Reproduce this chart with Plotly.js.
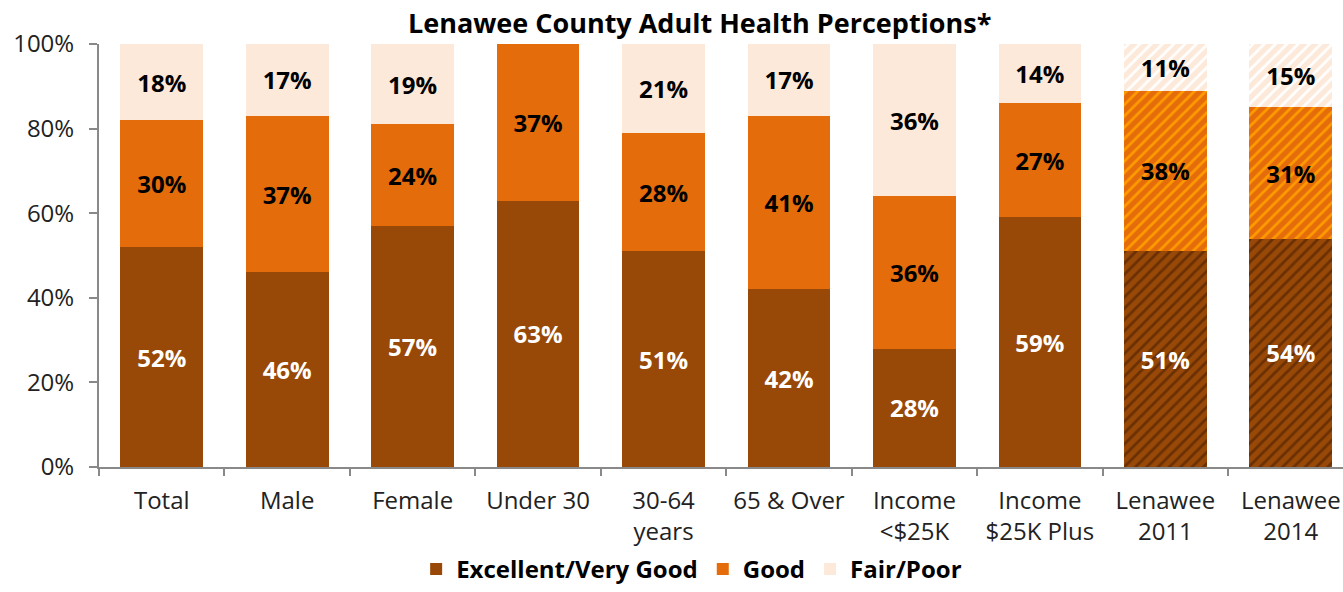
<!DOCTYPE html>
<html>
<head>
<meta charset="utf-8">
<script src="https://cdn.plot.ly/plotly-3.0.1.min.js"></script>
<style>html,body{margin:0;padding:0;background:#fff;}#chart{width:1343px;height:592px;}</style>
</head>
<body>
<div id="chart"></div>
<script>
const categories = ["Total","Male","Female","Under 30","30-64<br>years","65 & Over","Income<br><$25K","Income<br>$25K Plus","Lenawee<br>2011","Lenawee<br>2014"];
const excellent = [52,46,57,63,51,42,28,59,51,54];
const good = [30,37,24,37,28,41,36,27,38,31];
const fairPoor = [18,17,19,0,21,17,36,14,11,15];
const hatched = [false,false,false,false,false,false,false,false,true,true];

const FONT = "Open Sans, Noto Sans, sans-serif";
const shapes = hatched.map(h => h ? "/" : "");
const lbl = arr => arr.map(v => v > 0 ? v + "%" : "");

function series(name, vals, color, stripe, txtColor) {
  return {
    type: "bar", name: name, x: categories, y: vals,
    text: lbl(vals), textposition: "inside", insidetextanchor: "middle",
    textangle: 0, constraintext: "none",
    textfont: {family: FONT, size: 24, color: txtColor, weight: "bold"},
    marker: {color: color, line: {width: 0},
      pattern: {shape: shapes, fgcolor: stripe, bgcolor: color, size: 8, solidity: 0.35, fillmode: "replace"}},
    width: 0.66, hoverinfo: "skip"
  };
}

const data = [
  series("Excellent/Very Good", excellent, "#984807", "#6a3003", "#ffffff"),
  series("Good", good, "#E46C0A", "#FF9A00", "#000000"),
  series("Fair/Poor", fairPoor, "#FDE9D9", "#ffffff", "#000000")
];

const layout = {
  barmode: "stack",
  width: 1343, height: 592,
  margin: {l: 99, r: 0, t: 44, b: 125},
  paper_bgcolor: "#fff", plot_bgcolor: "#fff",
  font: {family: FONT, color: "#222"},
  title: {text: "<b>Lenawee County Adult Health Perceptions*</b>", font: {family: FONT, size: 27, color: "#000"},
    x: 0.521, xref: "container", xanchor: "center", y: 0.96, yref: "container", yanchor: "middle"},
  xaxis: {type: "category", range: [-0.5, 9.416], showline: true, linecolor: "#898989", linewidth: 2,
    ticks: "outside", tickson: "boundaries", ticklen: 7, tickcolor: "#898989", tickwidth: 2,
    ticklabelstandoff: 11,
    tickfont: {family: FONT, size: 24, color: "#222"}, showgrid: false, zeroline: false, fixedrange: true, automargin: false},
  yaxis: {range: [0, 100], dtick: 20, ticksuffix: "%", showline: true, linecolor: "#898989", linewidth: 2,
    ticks: "outside", ticklen: 8, tickcolor: "#898989", tickwidth: 2, ticklabelstandoff: 10,
    tickfont: {family: FONT, size: 24, color: "#222"}, showgrid: false, zeroline: false, fixedrange: true, automargin: false},
  showlegend: true,
  legend: {orientation: "h", xref: "container", x: 0.515, xanchor: "center", yref: "container", y: -0.011, yanchor: "bottom",
    font: {family: FONT, size: 24, color: "#000", weight: "bold"}, itemwidth: 30, traceorder: "normal"}
};

Plotly.newPlot("chart", data, layout, {displayModeBar: false, staticPlot: true});
</script>
</body>
</html>
